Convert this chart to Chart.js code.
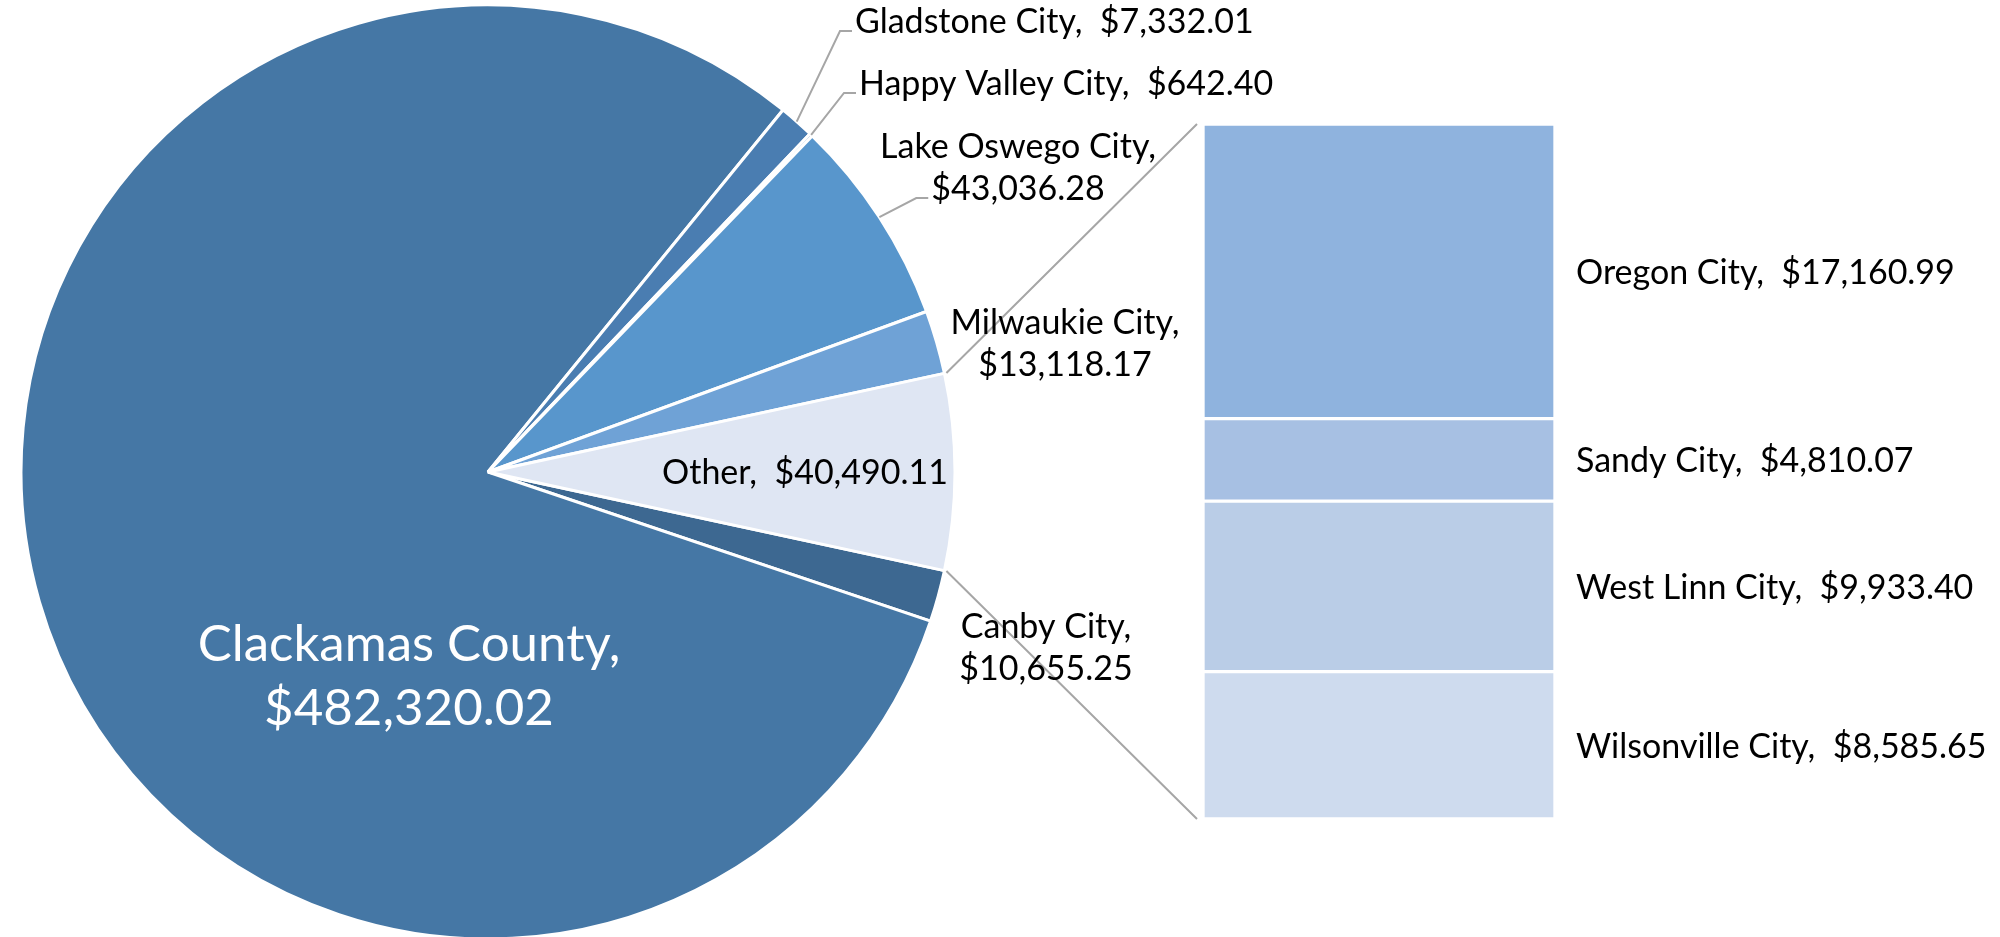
<!DOCTYPE html>
<html>
<head>
<meta charset="utf-8">
<title>Clackamas County</title>
<script src="https://cdn.jsdelivr.net/npm/chart.js@4.4.1/dist/chart.umd.min.js"></script>
<style>
    html, body { margin: 0; padding: 0; background: #fff; overflow: hidden; }
    #wrap { position: relative; width: 2000px; height: 937px; overflow: hidden; }
    #pieChart { position: absolute; left: 0; top: 0; }
    #barChart { position: absolute; left: 1190px; top: 0; }
</style>
</head>
<body>
<div id="wrap">
    <canvas id="pieChart" width="2000" height="960"></canvas>
    <canvas id="barChart" width="810" height="937"></canvas>
</div>
<script>
// Pie slices (clockwise, Excel order) - "Other" is broken out into the bar
const pieLabels = ['Canby City', 'Clackamas County', 'Gladstone City', 'Happy Valley City', 'Lake Oswego City', 'Milwaukie City', 'Other'];
const pieValues = [10655.25, 482320.02, 7332.01, 642.40, 43036.28, 13118.17, 40490.11];

// Stacked bar, top to bottom
const barLabels = ['Oregon City', 'Sandy City', 'West Linn City', 'Wilsonville City'];
const barValues = [17160.99, 4810.07, 9933.40, 8585.65];

const pieColors = ['#3D6891', '#4577A5', '#4A7DB1', '#5089C3', '#5896CC', '#6FA2D6', '#DFE6F3'];
const barColors = ['#8FB3DE', '#A7C0E3', '#BACDE7', '#CEDBEE'];

const FONT = 'Lato, "Open Sans", sans-serif';
const LINE_COLOR = '#A6A6A6';

// Label placement relative to the pie centre (cap-centre of first line)
const pieLabelLayout = [
    { dx: 558, dy: 154, align: 'center', split: true },                 // Canby
    { dx: -79, dy: 171, align: 'center', split: true, big: true },      // Clackamas
    { dx: 367, dy: -451, align: 'left', leader: true },                 // Gladstone
    { dx: 371, dy: -389, align: 'left', leader: true },                 // Happy Valley
    { dx: 530, dy: -326, align: 'center', split: true, leader: true },  // Lake Oswego
    { dx: 577, dy: -150, align: 'center', split: true },                // Milwaukie
    { dx: 317, dy: 0, align: 'center' }                                 // Other
];

function money(v) {
    return '$' + v.toLocaleString('en-US', { minimumFractionDigits: 2, maximumFractionDigits: 2 });
}

let barChart;

// Texto com a linha de base calculada a partir do centro das maiúsculas
function drawLines(ctx, lines, x, y, size, lineHeight, align, color) {
    ctx.save();
    ctx.font = `${size}px ${FONT}`;
    ctx.fillStyle = color;
    ctx.textAlign = align;
    ctx.textBaseline = 'alphabetic';
    lines.forEach((line, i) => {
        ctx.fillText(line, x, y + i * lineHeight + size * 0.36);
    });
    ctx.restore();
}

const pieLabelPlugin = {
    id: 'pieLabels',
    afterDatasetsDraw(chart) {
        const ctx = chart.ctx;
        const arcs = chart.getDatasetMeta(0).data;
        const cx = arcs[0].x;
        const cy = arcs[0].y;

        // connector lines from "Other" slice to the bar
        if (barChart) {
            const other = arcs[arcs.length - 1];
            const r = other.outerRadius;
            const metaTop = barChart.getDatasetMeta(barChart.data.datasets.length - 1).data[0];
            const metaBottom = barChart.getDatasetMeta(0).data[0];
            const offX = barChart.canvas.offsetLeft;
            const offY = barChart.canvas.offsetTop;
            const barLeft = offX + metaTop.x - metaTop.width / 2 - 6;
            ctx.save();
            ctx.strokeStyle = LINE_COLOR;
            ctx.lineWidth = 2;
            ctx.beginPath();
            ctx.moveTo(cx + Math.cos(other.startAngle) * (r + 2), cy + Math.sin(other.startAngle) * (r + 2));
            ctx.lineTo(barLeft, offY + metaTop.y);
            ctx.moveTo(cx + Math.cos(other.endAngle) * (r + 2), cy + Math.sin(other.endAngle) * (r + 2));
            ctx.lineTo(barLeft, offY + metaBottom.base);
            ctx.stroke();
            ctx.restore();
        }

        arcs.forEach((arc, i) => {
            const lay = pieLabelLayout[i];
            const size = lay.big ? 51 : 34;
            const lh = lay.big ? 64 : 42;
            const lines = lay.split
                ? [pieLabels[i] + ',', money(pieValues[i])]
                : [pieLabels[i] + ',  ' + money(pieValues[i])];
            const x = cx + lay.dx;
            const y = cy + lay.dy;
            drawLines(ctx, lines, x, y, size, lh, lay.align, lay.big ? '#FFFFFF' : '#000000');

            if (lay.leader) {
                ctx.save();
                ctx.font = `${size}px ${FONT}`;
                const last = lines[lines.length - 1];
                const w = ctx.measureText(last).width;
                const textLeft = lay.align === 'center' ? x - w / 2 : x;
                const ly = y + (lines.length - 1) * lh + 10;
                const mid = (arc.startAngle + arc.endAngle) / 2;
                ctx.strokeStyle = LINE_COLOR;
                ctx.lineWidth = 2;
                ctx.beginPath();
                ctx.moveTo(cx + Math.cos(mid) * arc.outerRadius, cy + Math.sin(mid) * arc.outerRadius);
                ctx.lineTo(textLeft - 15, ly);
                ctx.lineTo(textLeft - 3, ly);
                ctx.stroke();
                ctx.restore();
            }
        });
    }
};

const barLabelPlugin = {
    id: 'barLabels',
    afterDatasetsDraw(chart) {
        chart.data.datasets.forEach((ds, i) => {
            const el = chart.getDatasetMeta(i).data[0];
            const x = el.x + el.width / 2 + 21;
            const y = (el.y + el.base) / 2;
            drawLines(chart.ctx, [ds.label + ',  ' + money(ds.data[0])], x, y, 34, 42, 'left', '#000000');
        });
    }
};

function renderCharts() {
    // bar: datasets stack bottom-up, so reverse the top-down arrays
    const barDatasets = barLabels.map((name, i) => ({
        label: name,
        data: [barValues[i]],
        backgroundColor: barColors[i],
        borderColor: '#FFFFFF',
        borderWidth: 2,
        borderSkipped: false,
        barPercentage: 1,
        categoryPercentage: 1
    })).reverse();

    const barTotal = barValues.reduce((a, b) => a + b, 0);

    barChart = new Chart(document.getElementById('barChart'), {
        type: 'bar',
        data: { labels: ['Other'], datasets: barDatasets },
        options: {
            responsive: false,
            animation: false,
            events: [],
            layout: { padding: { left: 13, right: 445, top: 124, bottom: 118 } },
            scales: {
                x: { display: false, stacked: true },
                y: { display: false, stacked: true, min: 0, max: barTotal }
            },
            plugins: { legend: { display: false }, tooltip: { enabled: false } }
        },
        plugins: [barLabelPlugin]
    });

    const total = pieValues.reduce((a, b) => a + b, 0);
    const otherShare = pieValues[pieValues.length - 1] / total;

    new Chart(document.getElementById('pieChart'), {
        type: 'pie',
        data: {
            labels: pieLabels,
            datasets: [{
                data: pieValues,
                backgroundColor: pieColors,
                borderColor: '#FFFFFF',
                borderWidth: 3,
                hoverOffset: 0,
                hoverBorderWidth: 0
            }]
        },
        options: {
            responsive: false,
            animation: false,
            events: [],
            rotation: 90 + otherShare * 180, // "Other" centred at 3 o'clock
            layout: { padding: { left: 19.5, top: 3.5, right: 1043.5, bottom: 19.5 } },
            plugins: { legend: { display: false }, tooltip: { enabled: false } }
        },
        plugins: [pieLabelPlugin]
    });
}

document.fonts.load('34px Lato').then(renderCharts, renderCharts);
</script>
</body>
</html>
